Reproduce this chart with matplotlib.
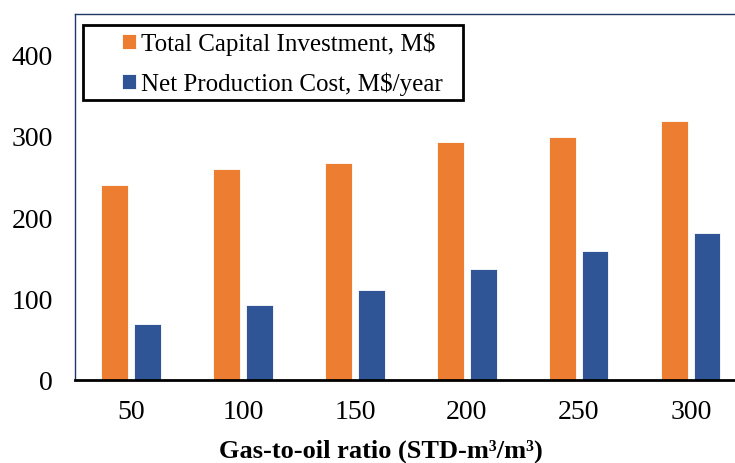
import matplotlib.pyplot as plt
from matplotlib.patches import Rectangle
import numpy as np

plt.rcParams['font.family'] = ['Liberation Serif', 'DejaVu Serif']

# data
gor = ['50', '100', '150', '200', '250', '300']
capital = [240, 259, 267, 292, 299, 318]
prod_cost = [69, 92, 111, 136, 158, 181]

x = np.arange(len(gor))
w = 0.24

fig = plt.figure(figsize=(7.35, 4.64), dpi=100)
ax = fig.add_axes([0.102, 0.179, 0.914, 0.789])

ax.bar(x - 0.145, capital, w, color='#ED7D31', edgecolor='white', linewidth=0.6,
       label='Total Capital Investment, M$')
ax.bar(x + 0.145, prod_cost, w, color='#2F5597', edgecolor='white', linewidth=0.6,
       label='Net Production Cost, M$/year')

ax.set_xlim(-0.5, 5.5)
ax.set_ylim(0, 450)
ax.set_yticks([0, 100, 200, 300, 400])
ax.set_xticks(x)
ax.set_xticklabels(gor)
ax.tick_params(axis='both', length=0, labelsize=20)
ax.tick_params(axis='x', pad=14)
ax.tick_params(axis='y', pad=16)

for s in ['left', 'top', 'right']:
    ax.spines[s].set_color('#1F3864')
    ax.spines[s].set_linewidth(1.0)
ax.spines['bottom'].set_color('black')
ax.spines['bottom'].set_linewidth(2.0)

ax.set_xlabel('Gas-to-oil ratio (STD-m³/m³)', fontsize=19, fontweight='bold',
              labelpad=10)
ax.xaxis.label.set_x(0.455)

# legend box drawn separately so the padding matches the reference
ax.add_patch(Rectangle((0.012, 0.765), 0.565, 0.205, transform=ax.transAxes,
                       fill=False, edgecolor='black', linewidth=2.0, zorder=5))
ax.legend(loc='upper left', bbox_to_anchor=(0.070, 0.952), fontsize=18,
          frameon=False, borderpad=0, borderaxespad=0,
          handlelength=0.55, handleheight=0.55, handletextpad=0.2,
          labelspacing=0.66)

fig.savefig('out.png', dpi=100)
